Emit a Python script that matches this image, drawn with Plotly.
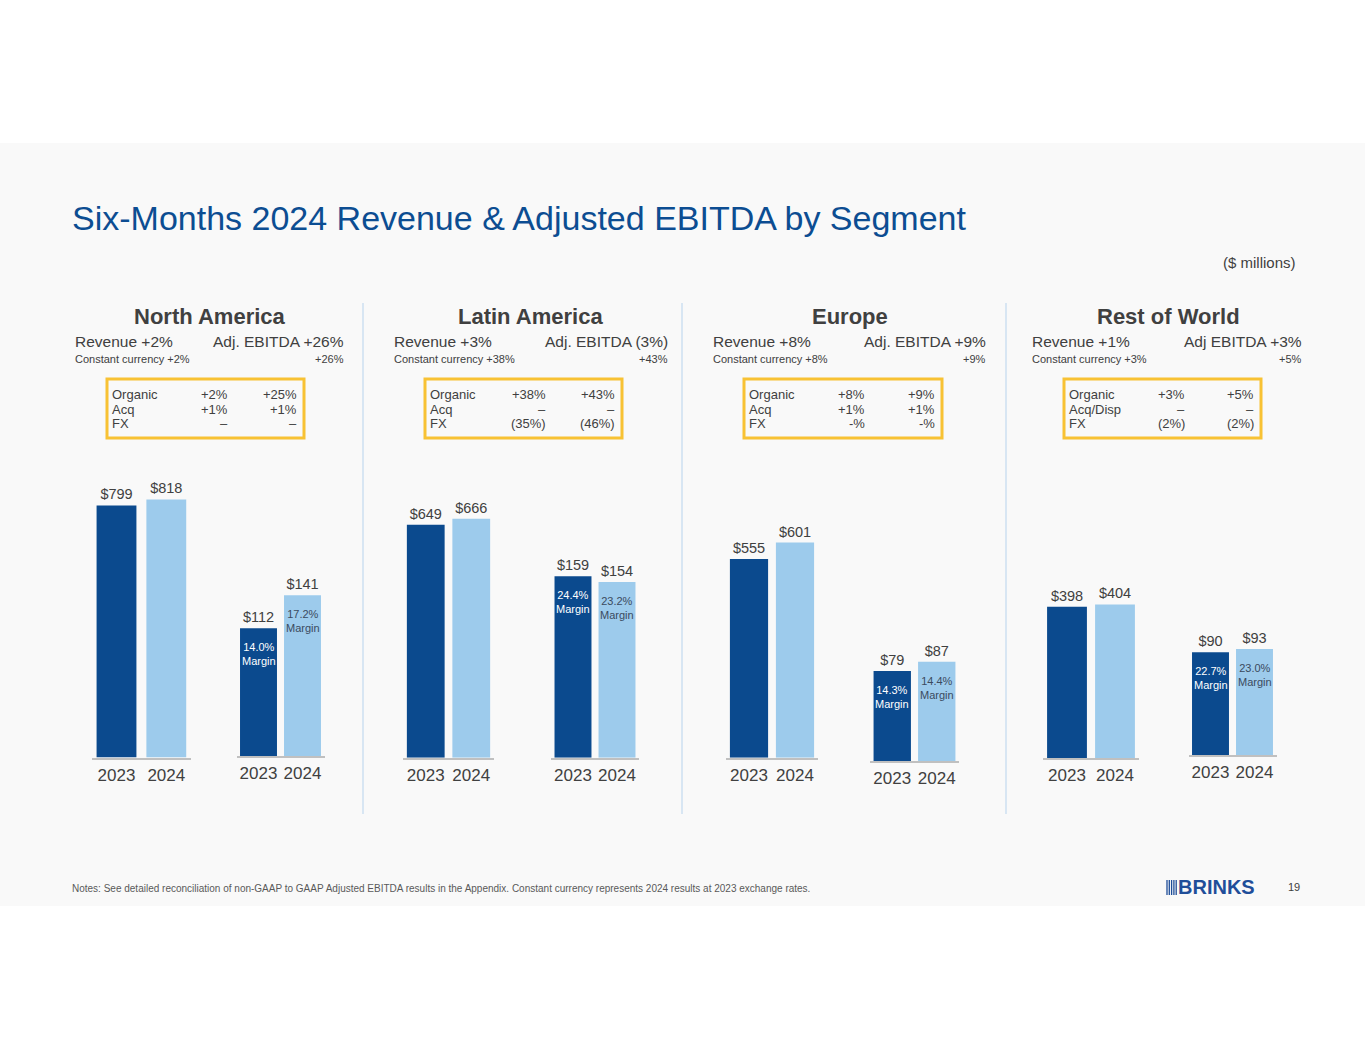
import plotly.graph_objects as go

W, H = 1365, 1055

# data
segments = ["North America", "Latin America", "Europe", "Rest of World"]
years = ["2023", "2024"]
revenue_2023 = [799, 649, 555, 398]
revenue_2024 = [818, 666, 601, 404]
ebitda_2023 = [112, 159, 79, 90]
ebitda_2024 = [141, 154, 87, 93]
margin_2023 = ["14.0%", "24.4%", "14.3%", "22.7%"]
margin_2024 = ["17.2%", "23.2%", "14.4%", "23.0%"]
revenue_growth = ["Revenue +2%", "Revenue +3%", "Revenue +8%", "Revenue +1%"]
ebitda_growth = ["Adj. EBITDA +26%", "Adj. EBITDA (3%)", "Adj. EBITDA +9%", "Adj EBITDA +3%"]
cc_revenue = ["Constant currency +2%", "Constant currency +38%",
              "Constant currency +8%", "Constant currency +3%"]
cc_ebitda = ["+26%", "+43%", "+9%", "+5%"]
bridge_rows = [["Organic", "Acq", "FX"], ["Organic", "Acq", "FX"],
               ["Organic", "Acq", "FX"], ["Organic", "Acq/Disp", "FX"]]
bridge_revenue = [["+2%", "+1%", "–"], ["+38%", "–", "(35%)"],
                  ["+8%", "+1%", "-%"], ["+3%", "–", "(2%)"]]
bridge_ebitda = [["+25%", "+1%", "–"], ["+43%", "–", "(46%)"],
                 ["+9%", "+1%", "-%"], ["+5%", "–", "(2%)"]]

# layout positions (pixels)
rev_dom = [(91.6, 191.2), (403, 494), (726, 818), (1043, 1139)]
ebit_dom = [(236.5, 324.5), (551, 639), (870, 959), (1188.5, 1276.5)]
rev_base = [757.5, 757.7, 757.7, 758]
ebit_base = [756, 757.7, 761, 755]
rev_top = [951, 836, 838, 789]   # axis range max for a 300px tall axis
ebit_top = 263
rev_width = [0.8, 0.83, 0.83, 0.83]
head_left = [75, 394, 713, 1032]
head_right = [344, 668, 986, 1302]
head_center = [210, 530, 850, 1168]
box_x = [(107, 304), (425, 622), (744, 942), (1064, 1261)]
dividers = [363, 682, 1006]

DARK = "#0b4a8e"
LIGHT = "#9dcbec"
GREY = "#404040"
FONT = "Liberation Sans, Arial, sans-serif"


def px(x):
    return x / W


def py(y):
    return 1 - y / H


def label(x, y, text, size, anchor="left", color=GREY):
    # annotations carry ~2px of padding, nudge so the ink sits on x
    shift = {"left": -2, "right": 2, "center": 0}[anchor]
    return dict(x=px(x), y=py(y), xref="paper", yref="paper", xanchor=anchor,
                yanchor="middle", xshift=shift, text=text, showarrow=False,
                font=dict(size=size, color=color, family=FONT))


fig = go.Figure()
annotations = []
shapes = []
axes = {}

n = 0
for i, seg in enumerate(segments):
    charts = [
        (revenue_2023[i], revenue_2024[i], rev_dom[i], rev_base[i], rev_top[i], rev_width[i], None),
        (ebitda_2023[i], ebitda_2024[i], ebit_dom[i], ebit_base[i], ebit_top, 0.84, (margin_2023[i], margin_2024[i])),
    ]
    for v23, v24, dom, base, top, bw, margins in charts:
        n += 1
        xa = "x" if n == 1 else f"x{n}"
        ya = "y" if n == 1 else f"y{n}"
        fig.add_trace(go.Bar(
            x=years, y=[v23, v24], xaxis=xa, yaxis=ya,
            marker=dict(color=[DARK, LIGHT], line=dict(width=0)),
            width=bw,
            text=[f"${v23}", f"${v24}"], textposition="outside",
            texttemplate="%{text}", constraintext="none", cliponaxis=False,
            textfont=dict(size=14.5, color=GREY, family=FONT),
            hoverinfo="skip", showlegend=False,
        ))
        axes["xaxis" if n == 1 else f"xaxis{n}"] = dict(
            domain=[px(dom[0]), px(dom[1])], anchor=ya, type="category",
            range=[-0.5, 1.5], showline=True, linecolor="#c0c0c0", linewidth=1.5,
            showgrid=False, zeroline=False, ticks="", ticklabelstandoff=1,
            tickfont=dict(size=17, color=GREY, family=FONT), fixedrange=True,
        )
        axes["yaxis" if n == 1 else f"yaxis{n}"] = dict(
            domain=[py(base), py(base - 300)], anchor=xa, range=[0, top],
            visible=False, fixedrange=True,
        )
        if margins:
            for k, (v, m) in enumerate(zip([v23, v24], margins)):
                annotations.append(dict(
                    x=k, y=v, xref=xa, yref=ya, xanchor="center", yanchor="top", yshift=-11,
                    text=f"{m}<br>Margin", showarrow=False,
                    font=dict(size=11, color="white" if k == 0 else "#3b4a5e", family=FONT),
                ))

    # headers
    annotations.append(label(head_center[i], 316, f"<b>{seg}</b>", 22, "center"))
    annotations.append(label(head_left[i], 341, revenue_growth[i], 15.5))
    annotations.append(label(head_right[i], 341, ebitda_growth[i], 15.5, "right"))
    annotations.append(label(head_left[i], 359, cc_revenue[i], 11))
    annotations.append(label(head_right[i], 359, cc_ebitda[i], 11, "right"))

    # bridge box
    bx0, bx1 = box_x[i]
    shapes.append(dict(type="rect", xref="paper", yref="paper",
                       x0=px(bx0), x1=px(bx1), y0=py(379), y1=py(438),
                       line=dict(color="#f8c234", width=3), fillcolor="rgba(0,0,0,0)"))
    for r in range(3):
        yy = 394 + 15 * r
        annotations.append(label(bx0 + 5, yy, bridge_rows[i][r], 13))
        annotations.append(label(bx0 + 121, yy, bridge_revenue[i][r], 13, "right"))
        annotations.append(label(bx1 - 7, yy, bridge_ebitda[i][r], 13, "right"))

# slide background band and dividers
shapes.insert(0, dict(type="rect", xref="paper", yref="paper", x0=0, x1=1,
                      y0=py(906), y1=py(143), fillcolor="#f9f9f9",
                      line=dict(width=0), layer="below"))
for dx in dividers:
    shapes.append(dict(type="line", xref="paper", yref="paper",
                       x0=px(dx), x1=px(dx), y0=py(303), y1=py(814),
                       line=dict(color="#cddff0", width=1.5)))

# logo stripes
for s in range(5):
    xs = 1167 + s * 2.3
    shapes.append(dict(type="line", xref="paper", yref="paper",
                       x0=px(xs), x1=px(xs), y0=py(880), y1=py(895),
                       line=dict(color="#1f4e99", width=1.3)))

annotations += [
    label(72, 218, "Six-Months 2024 Revenue & Adjusted EBITDA by Segment", 34, color="#0c4d92"),
    label(1296, 262, "($ millions)", 15, "right"),
    label(72, 888, "Notes: See detailed reconciliation of non-GAAP to GAAP Adjusted EBITDA results in the Appendix. "
                   "Constant currency represents 2024 results at 2023 exchange rates.", 10, color="#595959"),
    label(1178, 887, "<b>BRINKS</b>", 20, color="#1f4e99"),
    label(1294, 887, "19", 11, "center"),
]

fig.update_layout(
    width=W, height=H, margin=dict(l=0, r=0, t=0, b=0),
    paper_bgcolor="white", plot_bgcolor="rgba(0,0,0,0)",
    font=dict(family=FONT, color=GREY),
    annotations=annotations, shapes=shapes, **axes,
)

fig.write_html("out.html", config={"displayModeBar": False},
               post_script="document.body.style.margin='0px';")
